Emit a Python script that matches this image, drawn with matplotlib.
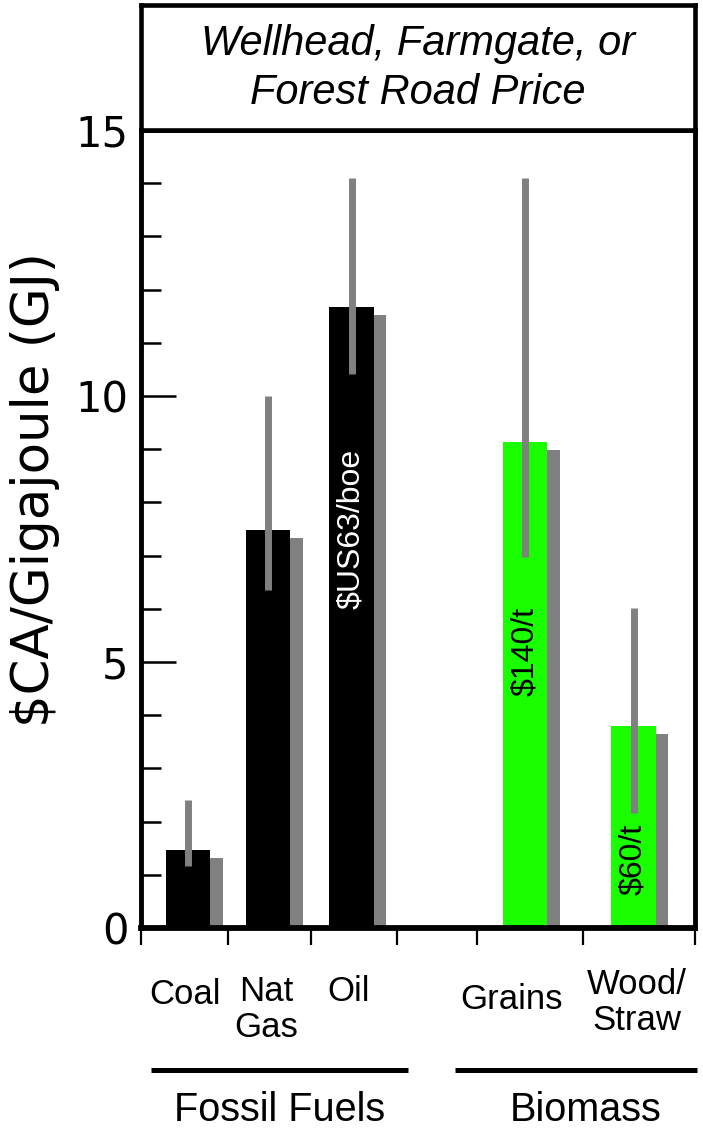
import matplotlib
matplotlib.use("Agg")
import matplotlib.pyplot as plt
import matplotlib.patheffects as pe
from matplotlib.transforms import blended_transform_factory

# ---------------- data ----------------
categories = ["Coal", "Nat\nGas", "Oil", "Grains", "Wood/\nStraw"]
values = [1.47, 7.48, 11.67, 9.14, 3.80]
err_low = [1.17, 6.35, 10.41, 6.97, 2.16]
err_high = [2.41, 10.0, 14.1, 14.1, 6.02]
bar_colors = ["black", "black", "black", "#19ff00", "#19ff00"]
inbar_text = [None, None, "$US63/boe", "$140/t", "$60/t"]
inbar_y = [None, None, 7.5, 5.19, 1.28]
inbar_color = [None, None, "white", "black", "black"]
groups = ["Fossil Fuels", "Biomass"]
title_text = "Wellhead, Farmgate, or\nForest Road Price"
ylabel_text = "$CA/Gigajoule (GJ)"
yticks_major = [0, 5, 10, 15]
yticks_minor = [1, 2, 3, 4, 6, 7, 8, 9, 11, 12, 13, 14]

# ---------------- layout ----------------
W, H = 703, 1130
xpos = [0.85, 2.29, 3.80, 6.93, 8.89]
label_x = [0.79, 2.26, 3.75, 6.68, 8.95]
label_top_px = [978, 975, 975, 983, 968]
xtick_marks = [0.0, 1.57, 3.07, 4.62, 6.06, 7.98, 10.0]
group_line_x = [(0.18, 4.82), (5.67, 10.04)]
group_text_x = [2.51, 8.03]

ARIAL = "Liberation Sans"

fig = plt.figure(figsize=(W / 100, H / 100), dpi=100)
ax = fig.add_axes([141 / W, 1 - 928 / H, 554 / W, 798 / H])
tax = fig.add_axes([141 / W, 1 - 130 / H, 554 / W, 125 / H])

# title box
tax.set_xticks([])
tax.set_yticks([])
for s in tax.spines.values():
    s.set_linewidth(3.3)
tax.text(0.5, 0.49, title_text, ha="center", va="center", fontsize=30,
         style="italic", family=ARIAL, linespacing=1.28, transform=tax.transAxes)

# bars with shadow
shadow = [pe.SimplePatchShadow(offset=(9, -5.8), shadow_rgbFace="#808080", alpha=1.0),
          pe.Normal()]
bars = ax.bar(xpos, values, width=0.80, color=bar_colors, zorder=2)
for b in bars:
    b.set_path_effects(shadow)

# error lines
ax.vlines(xpos, err_low, err_high, colors="#808080", linewidth=5, zorder=3)

# in-bar labels
for x, t, y, c in zip(xpos, inbar_text, inbar_y, inbar_color):
    if t:
        ax.text(x, y, t, rotation=90, ha="center", va="center", color=c,
                fontsize=23, family=ARIAL, zorder=4)

ax.set_xlim(0, 10)
ax.set_ylim(0, 15)
for s in ax.spines.values():
    s.set_linewidth(3.5)
ax.spines["bottom"].set_linewidth(4.2)

ax.set_yticks(yticks_major)
ax.set_yticks(yticks_minor, minor=True)
ax.set_yticklabels([str(v) for v in yticks_major], fontsize=30, family="DejaVu Sans")
ax.tick_params(axis="y", which="major", direction="in", length=25, width=1.8, pad=9)
ax.tick_params(axis="y", which="minor", direction="in", length=14.4, width=1.8)

ax.set_xticks([])
ax.set_xticks(xtick_marks, minor=True)
ax.tick_params(axis="x", which="minor", direction="out", length=12, width=1.6)

ax.set_ylabel(ylabel_text, fontsize=37, family="DejaVu Sans")
ax.yaxis.set_label_coords(-0.146, 0.55)

# category labels
tr = blended_transform_factory(ax.transData, fig.transFigure)
for x, lab, ytop in zip(label_x, categories, label_top_px):
    ax.text(x, 1 - ytop / H, lab, transform=tr, ha="center", va="top",
            fontsize=25, family=ARIAL, linespacing=1.12, clip_on=False)

# group lines and labels
for (x0, x1), gx, g in zip(group_line_x, group_text_x, groups):
    ax.plot([x0, x1], [1 - 1070 / H] * 2, transform=tr, color="black",
            linewidth=3.6, clip_on=False, solid_capstyle="butt")
    ax.text(gx, 1 - 1121 / H, g, transform=tr, ha="center", va="baseline",
            fontsize=28.5, family=ARIAL, clip_on=False)

fig.savefig("out.png", dpi=100)
